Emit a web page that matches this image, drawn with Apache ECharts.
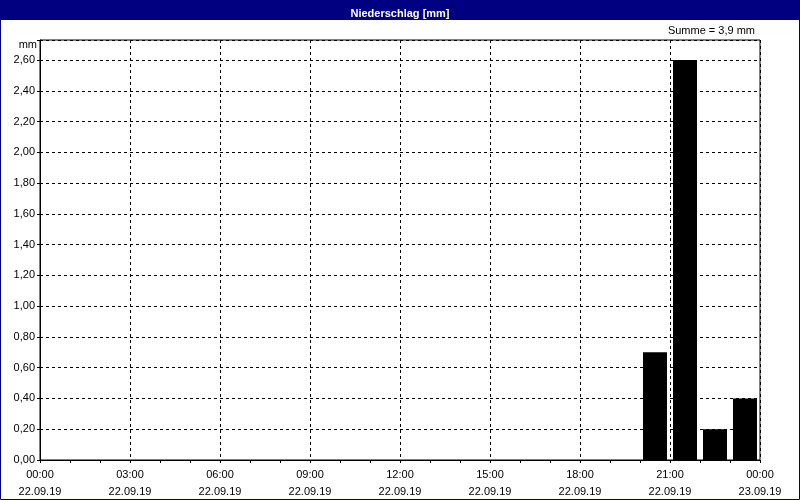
<!DOCTYPE html>
<html>
<head>
<meta charset="utf-8">
<script src="https://cdn.jsdelivr.net/npm/echarts@6/dist/echarts.min.js"></script>
<style>
html,body{margin:0;padding:0;background:#fff;}
#c{width:800px;height:500px;}
</style>
</head>
<body>
<div id="c"></div>
<script>
// Hourly precipitation on 22.09.19 (hour starting at index)
const hours = ['00','01','02','03','04','05','06','07','08','09','10','11','12','13','14','15','16','17','18','19','20','21','22','23'];
const precip = [0,0,0,0,0,0,0,0,0,0,0,0,0,0,0,0,0,0,0,0,0.7,2.6,0.2,0.4];
const tickTimes = ['00:00','03:00','06:00','09:00','12:00','15:00','18:00','21:00','00:00'];
const tickDates = ['22.09.19','22.09.19','22.09.19','22.09.19','22.09.19','22.09.19','22.09.19','22.09.19','23.09.19'];
const titleText = 'Niederschlag [mm]';
const unitText = 'mm';
const sumText = 'Summe = 3,9 mm';

const FONT = 'Liberation Sans';
const chart = echarts.init(document.getElementById('c'), null, {renderer:'canvas'});
chart.setOption({
  animation:false,
  backgroundColor:'#fff',
  textStyle:{fontFamily:FONT},
  title:{
    text:titleText, left:'center', top:3,
    textStyle:{color:'#fff', fontSize:11, fontWeight:'bold', fontFamily:FONT}
  },
  graphic:[
    {type:'rect', z:-1, shape:{x:0,y:0,width:800,height:20}, style:{fill:'#000080'}},
    {type:'rect', z:100, shape:{x:0.5,y:0.5,width:799,height:499}, style:{fill:null, stroke:'#000080', lineWidth:1}},
    {type:'text', right:45, top:25, style:{text:sumText, fill:'#000', font:'11px '+FONT}},
    {type:'text', right:763, top:39, style:{text:unitText, fill:'#000', font:'11px '+FONT}}
  ],
  grid:{left:40, right:40, top:40, bottom:40, show:true, borderColor:'#000', borderWidth:1, containLabel:false},
  xAxis:[
    {type:'category', data:hours, boundaryGap:true, show:false},
    {type:'value', min:0, max:24, interval:3, position:'bottom',
      axisLine:{show:true, lineStyle:{color:'#000', width:1}},
      axisTick:{show:true, inside:false, length:3, lineStyle:{color:'#000'}},
      minorTick:{show:true, splitNumber:3, length:3, lineStyle:{color:'#000'}},
      splitLine:{show:true, lineStyle:{color:'#000', type:[3,3], width:1}},
      axisLabel:{color:'#000', fontSize:11, lineHeight:17, margin:6,
        formatter:function(v){const i=Math.round(v/3); return tickTimes[i]+'\n'+tickDates[i];}}
    }
  ],
  yAxis:{type:'value', min:0, max:2.73, interval:0.2,
    axisLine:{show:true, lineStyle:{color:'#000'}},
    axisTick:{show:true, length:3, lineStyle:{color:'#000'}},
    splitLine:{show:true, lineStyle:{color:'#000', type:[3,3], width:1}},
    axisLabel:{color:'#000', fontSize:11, margin:5,
      formatter:function(v){
        const r=Math.round(v*100);
        if (r%20!==0) return '';
        return (r/100).toFixed(2).replace('.',',');
      }}
  },
  series:[{
    type:'bar', xAxisIndex:0, data:precip, barWidth:24,
    itemStyle:{color:'#000'}
  }]
});
</script>
</body>
</html>
